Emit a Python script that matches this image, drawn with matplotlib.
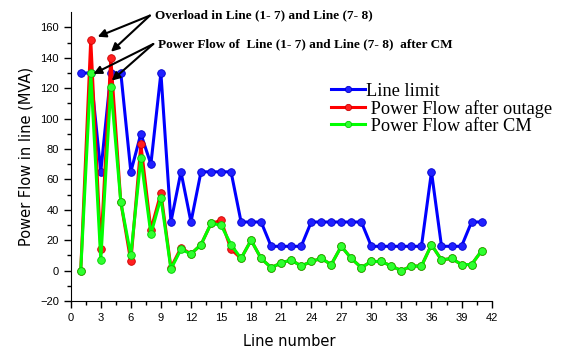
import numpy as np
import matplotlib
matplotlib.use('Agg')
import matplotlib.pyplot as plt

# line numbers 1..41
lines = list(range(1, 42))

line_limit = [130, 130, 65, 130, 130, 65, 90, 70, 130, 32,
              65, 32, 65, 65, 65, 65, 32, 32, 32, 16,
              16, 16, 16, 32, 32, 32, 32, 32, 32, 16,
              16, 16, 16, 16, 16, 65, 16, 16, 16, 32, 32]

flow_outage = [0, 152, 14, 140, 45, 6, 83, 27, 51, 2,
               15, 11, 17, 31, 33, 14, 8, 20, 8, 2,
               5, 7, 3, 6, 8, 4, 16, 8, 2, 6,
               6, 3, 0, 3, 3, 17, 7, 8, 4, 4, 13]

flow_cm = [0, 130, 7, 121, 45, 10, 74, 24, 48, 1,
           14, 11, 17, 31, 30, 17, 8, 20, 8, 2,
           5, 7, 3, 6, 8, 4, 16, 8, 2, 6,
           6, 3, 0, 3, 3, 17, 7, 8, 4, 4, 13]

xticks = list(range(0, 43, 3))
yticks = list(range(-20, 161, 20))

fig = plt.figure(figsize=(5.68, 3.49), dpi=100)
ax = fig.add_axes([0.1245, 0.1375, 0.741, 0.8275])

ax.plot(lines, line_limit, color='#0000ff', lw=2.2, marker='o', ms=5.5,
        mfc='#2020ff', mec='#0000cc', mew=0.6, label='Line limit')
ax.plot(lines, flow_outage, color='#ff0000', lw=2.2, marker='o', ms=5.5,
        mfc='#ff2020', mec='#cc0000', mew=0.6, label=' Power Flow after outage')
ax.plot(lines, flow_cm, color='#00ff00', lw=2.2, marker='o', ms=5.5,
        mfc='#30ff30', mec='#00cc00', mew=0.6, label=' Power Flow after CM')

ax.set_xlim(0, 42)
ax.set_ylim(-20, 170)
ax.set_xticks(xticks)
ax.set_yticks(yticks)
ax.set_xticks(np.arange(1.5, 42, 3), minor=True)
ax.set_yticks(np.arange(-10, 170, 20), minor=True)
ax.spines['top'].set_visible(False)
ax.spines['right'].set_visible(False)
ax.tick_params(which='major', direction='out', length=5, width=1, labelsize=8)
ax.tick_params(which='minor', direction='out', length=3, width=1)
for lab in ax.get_xticklabels() + ax.get_yticklabels():
    lab.set_family('Liberation Sans')

ax.set_xlabel('Line number', fontsize=10.5, family='DejaVu Sans', labelpad=10)
ax.xaxis.set_label_coords(0.52, -0.115)
ax.set_ylabel('Power Flow in line (MVA)', fontsize=10.5, family='DejaVu Sans', labelpad=5)

leg = ax.legend(loc='upper left', bbox_to_anchor=(0.553, 0.81),
                bbox_transform=fig.transFigure, frameon=False,
                handlelength=1.9, handletextpad=0.05, labelspacing=0.0,
                prop={'family': 'Liberation Serif', 'size': 13.2})
for h in leg.legend_handles:
    h.set_markersize(4.5)

# annotations
ax.text(8.41, 167.8, 'Overload in Line (1- 7) and Line (7- 8)', fontsize=9.5,
        family='Liberation Serif', weight='bold', va='center', ha='left', clip_on=False)
ax.text(8.71, 149.2, 'Power Flow of  Line (1- 7) and Line (7- 8)  after CM', fontsize=9.5,
        family='Liberation Serif', weight='bold', va='center', ha='left', clip_on=False)

arrow = dict(arrowstyle='-|>', color='black', lw=1.5, mutation_scale=12, shrinkA=0, shrinkB=0)
for tip in [(2.69, 153.9), (4.02, 144)]:
    ax.annotate('', xy=tip, xytext=(7.9, 167.8), arrowprops=arrow, annotation_clip=False)
for tip in [(2.26, 129.4), (4.09, 125)]:
    ax.annotate('', xy=tip, xytext=(8.24, 149.1), arrowprops=arrow, annotation_clip=False)

fig.savefig('out.png', dpi=100)
